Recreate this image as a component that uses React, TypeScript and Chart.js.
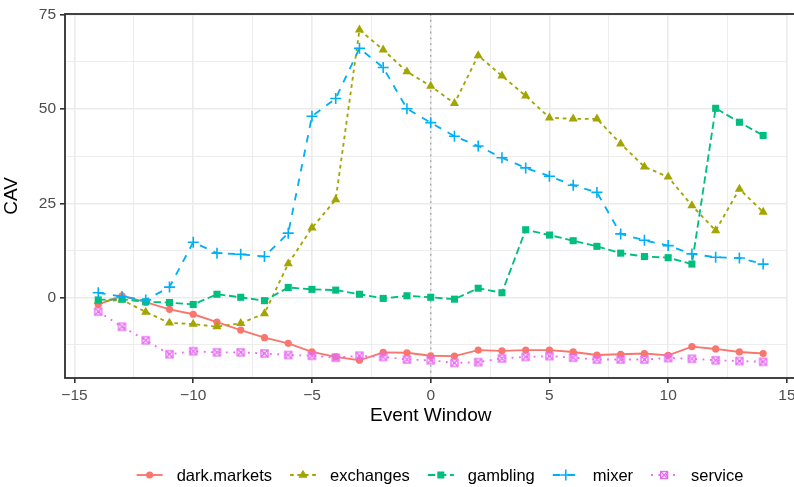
import React, { useEffect, useRef } from 'react';
import { Chart, registerables } from 'chart.js';

Chart.register(...registerables);

// ---------------- data ----------------
const eventWindow = [-14, -13, -12, -11, -10, -9, -8, -7, -6, -5, -4, -3, -2, -1, 0, 1, 2, 3, 4, 5, 6, 7, 8, 9, 10, 11, 12, 13, 14];

const darkMarkets = [-1.8, 0.5, -1.2, -3.1, -4.4, -6.5, -8.6, -10.6, -12.1, -14.4, -15.7, -16.6, -14.5, -14.6, -15.4, -15.5, -13.9, -14.1, -13.9, -13.9, -14.4, -15.2, -15.0, -14.8, -15.3, -13.0, -13.6, -14.4, -14.8];
const exchanges = [-1.0, -0.6, -3.8, -6.7, -7.0, -7.7, -6.8, -4.2, 9.0, 18.5, 26.0, 71.0, 65.7, 59.9, 56.1, 51.5, 64.2, 58.8, 53.5, 47.7, 47.4, 47.4, 40.8, 34.7, 32.0, 24.4, 17.8, 28.8, 22.7];
const gambling = [-0.6, -0.4, -1.1, -1.3, -1.8, 0.9, 0.1, -0.8, 2.7, 2.2, 2.0, 0.9, -0.2, 0.5, 0.1, -0.4, 2.5, 1.3, 18.0, 16.6, 15.1, 13.6, 11.8, 10.9, 10.6, 8.9, 50.2, 46.5, 43.0];
const mixer = [1.3, 0.3, -0.6, 2.8, 14.7, 11.8, 11.5, 10.9, 17.1, 48.1, 52.8, 66.1, 61.0, 50.1, 46.4, 42.8, 40.2, 37.1, 34.4, 32.2, 29.8, 27.9, 16.9, 15.2, 13.8, 11.6, 10.7, 10.5, 8.9];
const service = [-3.7, -7.7, -11.3, -15.0, -14.2, -14.5, -14.5, -14.8, -15.2, -15.4, -15.9, -15.4, -15.7, -16.4, -16.6, -17.3, -17.1, -16.1, -15.7, -15.5, -15.9, -16.4, -16.4, -16.4, -16.0, -16.2, -16.6, -16.8, -17.0];

const seriesNames = ['dark.markets', 'exchanges', 'gambling', 'mixer', 'service'];
const seriesValues = [darkMarkets, exchanges, gambling, mixer, service];

const xTickValues = [-15, -12.5, -10, -7.5, -5, -2.5, 0, 2.5, 5, 7.5, 10, 12.5, 15];
const yTickValues = [-12.5, 0, 12.5, 25, 37.5, 50, 62.5, 75];
const xTitle = 'Event Window';
const yTitle = 'CAV';

// ---------------- styles ----------------
const FONT = '"Liberation Sans", Arial, Helvetica, sans-serif';
const LW = 1.85;
const styles = [
  { color: '#F8766D', dash: [] as number[], marker: 'circle' },
  { color: '#A3A500', dash: [3.7, 3.7], marker: 'triangle' },
  { color: '#00BF7D', dash: [7.4, 3.7], marker: 'square' },
  { color: '#00B0F6', dash: [7.4, 7.4], marker: 'plus' },
  { color: '#E76BF3', dash: [1.85, 5.5], marker: 'boxcross' },
];

function makeBoxCross(color: string) {
  const c = document.createElement('canvas');
  c.width = 11;
  c.height = 11;
  const g = c.getContext('2d')!;
  g.strokeStyle = color;
  g.lineWidth = 1.3;
  g.strokeRect(2, 2, 7, 7);
  g.beginPath();
  g.moveTo(2, 2);
  g.lineTo(9, 9);
  g.moveTo(9, 2);
  g.lineTo(2, 9);
  g.stroke();
  return c;
}

function drawMarker(ctx: CanvasRenderingContext2D, kind: string, x: number, y: number, color: string) {
  ctx.save();
  ctx.setLineDash([]);
  ctx.fillStyle = color;
  ctx.strokeStyle = color;
  if (kind === 'circle') {
    ctx.beginPath();
    ctx.arc(x, y, 3.6, 0, Math.PI * 2);
    ctx.fill();
  } else if (kind === 'triangle') {
    const r = 5.3;
    ctx.beginPath();
    for (let k = 0; k < 3; k++) {
      const a = (k * 2 * Math.PI) / 3;
      const px = x + Math.sin(a) * r;
      const py = y - Math.cos(a) * r;
      if (k === 0) ctx.moveTo(px, py);
      else ctx.lineTo(px, py);
    }
    ctx.closePath();
    ctx.fill();
  } else if (kind === 'square') {
    ctx.fillRect(x - 3.5, y - 3.5, 7, 7);
  } else if (kind === 'plus') {
    ctx.lineWidth = 1.6;
    ctx.beginPath();
    ctx.moveTo(x - 5.5, y);
    ctx.lineTo(x + 5.5, y);
    ctx.moveTo(x, y - 5.5);
    ctx.lineTo(x, y + 5.5);
    ctx.stroke();
  } else {
    ctx.lineWidth = 1.3;
    ctx.strokeRect(x - 3.5, y - 3.5, 7, 7);
    ctx.beginPath();
    ctx.moveTo(x - 3.5, y - 3.5);
    ctx.lineTo(x + 3.5, y + 3.5);
    ctx.moveTo(x + 3.5, y - 3.5);
    ctx.lineTo(x - 3.5, y + 3.5);
    ctx.stroke();
  }
  ctx.restore();
}

const fmt = (v: number) => (v < 0 ? '\u2212' + Math.abs(v) : String(v));
const isMult = (v: number, m: number) => Math.abs(v / m - Math.round(v / m)) < 1e-9;

const decorPlugin = {
  id: 'decor',
  beforeDatasetsDraw(chart: any) {
    const { ctx, chartArea, scales } = chart;
    const x0 = scales.x.getPixelForValue(0);
    ctx.save();
    ctx.strokeStyle = '#A8A8A8';
    ctx.lineWidth = 1.4;
    ctx.setLineDash([1.85, 4]);
    ctx.beginPath();
    ctx.moveTo(x0, chartArea.top);
    ctx.lineTo(x0, chartArea.bottom);
    ctx.stroke();
    ctx.restore();
  },
  afterDatasetsDraw(chart: any) {
    const { ctx, chartArea } = chart;
    ctx.save();
    ctx.strokeStyle = '#333333';
    ctx.lineWidth = LW;
    ctx.setLineDash([]);
    ctx.strokeRect(chartArea.left, chartArea.top, chartArea.right - chartArea.left + 20, chartArea.bottom - chartArea.top);
    ctx.restore();
  },
  afterDraw(chart: any) {
    const { ctx, chartArea } = chart;
    ctx.save();
    // axis titles
    ctx.fillStyle = '#000000';
    ctx.font = `19px ${FONT}`;
    ctx.textAlign = 'center';
    ctx.textBaseline = 'middle';
    ctx.fillText(xTitle, chart.scales.x.getPixelForValue(0), 416);
    ctx.save();
    ctx.translate(12, (chartArea.top + chartArea.bottom) / 2);
    ctx.rotate(-Math.PI / 2);
    ctx.fillText(yTitle, 0, 0);
    ctx.restore();

    // legend
    ctx.font = `16.5px ${FONT}`;
    const keyW = 26;
    const keyGap = 14;
    const itemGap = 18;
    const widths = seriesNames.map((n) => ctx.measureText(n).width);
    const total = widths.reduce((a, w) => a + keyW + keyGap + w, 0) + itemGap * (seriesNames.length - 1);
    let x = 440 - total / 2;
    const ly = 475;
    ctx.textAlign = 'left';
    ctx.textBaseline = 'alphabetic';
    seriesNames.forEach((name, i) => {
      const st = styles[i];
      ctx.save();
      ctx.strokeStyle = st.color;
      ctx.lineWidth = LW;
      ctx.setLineDash(st.dash);
      ctx.beginPath();
      ctx.moveTo(x, ly);
      ctx.lineTo(x + keyW, ly);
      ctx.stroke();
      ctx.restore();
      drawMarker(ctx, st.marker, x + keyW / 2, ly, st.color);
      ctx.fillStyle = '#000000';
      ctx.fillText(name, x + keyW + keyGap, 481);
      x += keyW + keyGap + widths[i] + itemGap;
    });
    ctx.restore();
  },
};

export default function App() {
  const canvasRef = useRef<HTMLCanvasElement | null>(null);

  useEffect(() => {
    const canvas = canvasRef.current;
    if (!canvas) return;

    const datasets = seriesNames.map((name, i) => {
      const st = styles[i];
      const base: any = {
        label: name,
        data: eventWindow.map((x, j) => ({ x, y: seriesValues[i][j] })),
        borderColor: st.color,
        backgroundColor: st.color,
        borderWidth: LW,
        borderDash: st.dash,
        borderCapStyle: 'butt',
        tension: 0,
        fill: false,
        order: seriesNames.length - i,
        pointBackgroundColor: st.color,
        pointBorderColor: st.color,
        pointBorderWidth: 0,
        pointHoverRadius: 0,
      };
      if (st.marker === 'circle') {
        base.pointStyle = 'circle';
        base.pointRadius = 3.6;
      } else if (st.marker === 'triangle') {
        base.pointStyle = 'triangle';
        base.pointRadius = 5.3;
      } else if (st.marker === 'square') {
        base.pointStyle = 'rect';
        base.pointRadius = 5;
      } else if (st.marker === 'plus') {
        base.pointStyle = 'cross';
        base.pointRadius = 5.5;
        base.pointBorderWidth = 1.6;
      } else {
        base.pointStyle = makeBoxCross(st.color);
        base.pointRadius = 5;
      }
      return base;
    });

    const chart = new Chart(canvas, {
      type: 'line',
      data: { datasets },
      options: {
        animation: false,
        responsive: false,
        devicePixelRatio: 1,
        layout: { padding: { top: 14, left: 0, right: 0, bottom: 0 } },
        plugins: { legend: { display: false }, tooltip: { enabled: false }, title: { display: false } },
        events: [],
        scales: {
          x: {
            type: 'linear',
            min: -15.4,
            max: 15,
            afterBuildTicks: (scale: any) => {
              scale.ticks = xTickValues.map((v) => ({ value: v }));
            },
            afterFit: (scale: any) => {
              scale.height = 109;
              scale.paddingLeft = 0;
              scale.paddingRight = 0;
            },
            border: { display: false },
            grid: {
              color: '#EBEBEB',
              lineWidth: (c: any) => (isMult(c.tick.value, 5) ? 1.6 : 0.9),
              tickColor: (c: any) => (isMult(c.tick.value, 5) ? '#333333' : 'rgba(0,0,0,0)'),
              tickLength: 5,
              tickWidth: 1.6,
            },
            ticks: {
              autoSkip: false,
              maxRotation: 0,
              padding: 3,
              color: '#4D4D4D',
              font: { family: FONT, size: 15.5 },
              callback: (v: any) => (isMult(Number(v), 5) ? fmt(Number(v)) : ''),
            },
          },
          y: {
            type: 'linear',
            min: -21.3,
            max: 75.2,
            afterBuildTicks: (scale: any) => {
              scale.ticks = yTickValues.map((v) => ({ value: v }));
            },
            afterFit: (scale: any) => {
              scale.width = 65;
              scale.paddingTop = 0;
              scale.paddingBottom = 0;
            },
            border: { display: false },
            grid: {
              color: '#EBEBEB',
              lineWidth: (c: any) => (isMult(c.tick.value, 25) ? 1.6 : 0.9),
              tickColor: (c: any) => (isMult(c.tick.value, 25) ? '#333333' : 'rgba(0,0,0,0)'),
              tickLength: 5,
              tickWidth: 1.6,
            },
            ticks: {
              autoSkip: false,
              padding: 4,
              color: '#4D4D4D',
              font: { family: FONT, size: 15.5 },
              callback: (v: any) => (isMult(Number(v), 25) ? fmt(Number(v)) : ''),
            },
          },
        },
      },
      plugins: [decorPlugin],
    });

    return () => chart.destroy();
  }, []);

  return (
    <div style={{ position: 'absolute', left: 0, top: 0, width: 794, height: 487, background: '#ffffff' }}>
      <canvas ref={canvasRef} width={794} height={487} style={{ display: 'block', width: 794, height: 487 }} />
    </div>
  );
}
